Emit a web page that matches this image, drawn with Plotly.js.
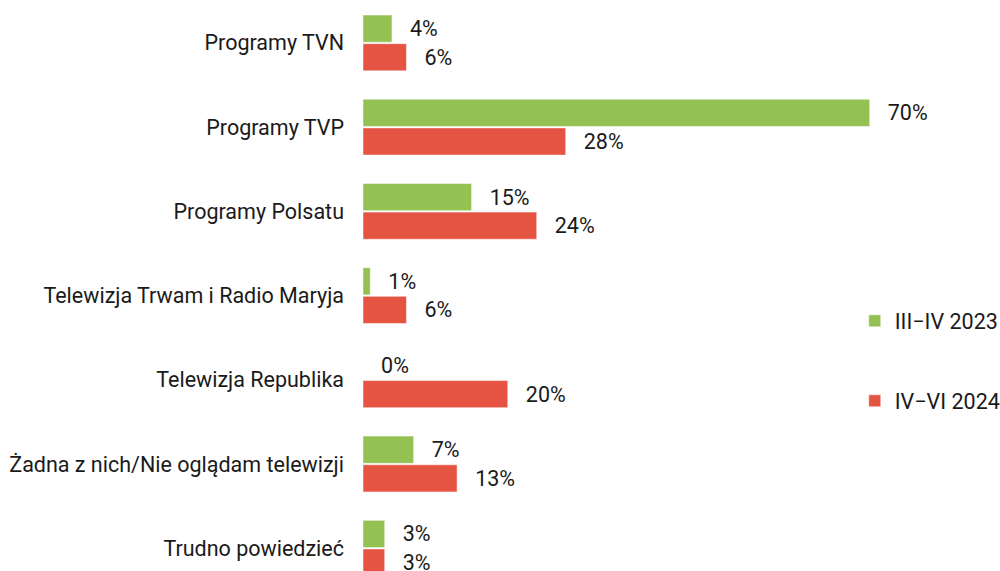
<!DOCTYPE html>
<html>
<head>
<meta charset="utf-8">
<script src="https://cdn.plot.ly/plotly-3.0.1.min.js"></script>
<style>html,body{margin:0;padding:0;background:#fff;}#chart{width:1000px;height:571px;}</style>
</head>
<body>
<div id="chart"></div>
<script>
const categories = ["Programy TVN", "Programy TVP", "Programy Polsatu", "Telewizja Trwam i Radio Maryja", "Telewizja Republika", "Żadna z nich/Nie oglądam telewizji", "Trudno powiedzieć"];
const series2023 = [4, 70, 15, 1, 0, 7, 3];
const series2024 = [6, 28, 24, 6, 20, 13, 3];
const seriesNames = ["III\u2212IV 2023", "IV\u2212VI 2024"];
const colors = ["#93c152", "#e55343"];

const FS = 21.5;
const pad = "\u00a0\u00a0\u2009";
function mk(vals, i) {
  return {
    type: "bar", orientation: "h",
    x: vals, y: categories,
    name: seriesNames[i],
    legendgroup: "g" + i,
    marker: {color: colors[i], line: {color: "rgba(255,255,255,0.5)", width: 1}},
    text: vals.map(v => pad + v + "%"),
    textposition: "outside",
    cliponaxis: false,
    textfont: {family: "Roboto", size: FS, color: "#1a1a1a"},
    hoverinfo: "x+y"
  };
}
const data = [mk(series2023, 0), mk(series2024, 1)];
const layout = {
  width: 1000, height: 571,
  margin: {l: 363, r: 0, t: 0, b: 0, autoexpand: false},
  paper_bgcolor: "#fff", plot_bgcolor: "#fff",
  font: {family: "Roboto", size: FS, color: "#1a1a1a"},
  barmode: "group", bargap: 0.32, bargroupgap: 0.05,
  xaxis: {range: [0, 88], visible: false, fixedrange: true},
  yaxis: {range: [6.27, -0.51], showgrid: false, zeroline: false, showline: false,
          ticks: "", ticklabelstandoff: 18, tickfont: {family: "Roboto", size: FS, color: "#1a1a1a"}},
  showlegend: true,
  legend: {x: 0.772, xanchor: "left", y: 0.474, yanchor: "top", traceorder: "grouped",
           tracegroupgap: 49, itemwidth: 30, font: {family: "Roboto", size: FS, color: "#1a1a1a"}, bgcolor: "rgba(0,0,0,0)"}
};
Plotly.newPlot("chart", data, layout, {displayModeBar: false, staticPlot: true});
</script>
</body>
</html>
